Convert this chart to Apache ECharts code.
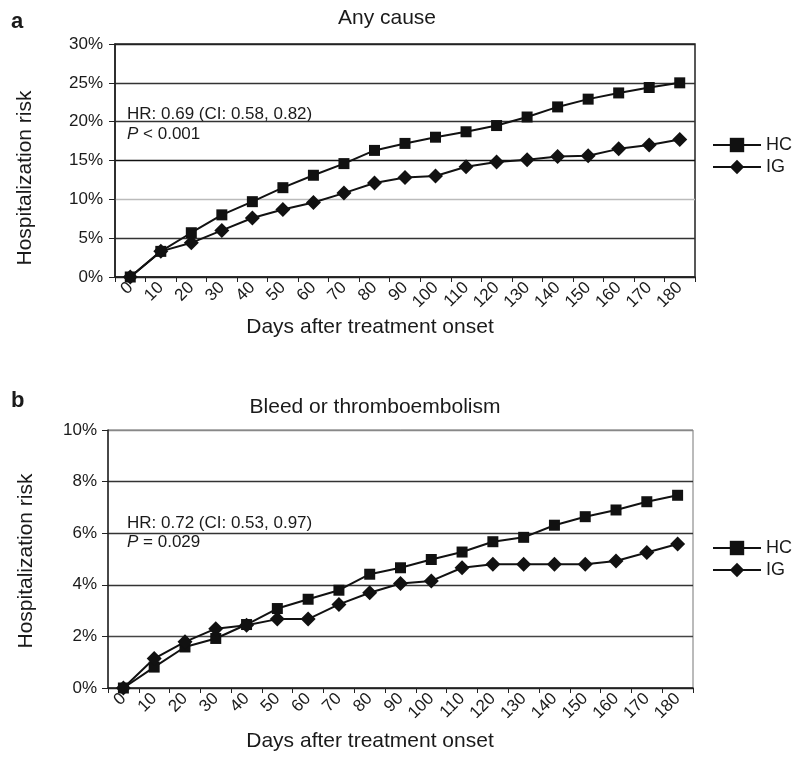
<!DOCTYPE html>
<html>
<head>
<meta charset="utf-8">
<script src="https://cdn.jsdelivr.net/npm/echarts@6/dist/echarts.min.js"></script>
<style>
html,body{margin:0;padding:0;background:#fff;}
#c{width:800px;height:758px;}
</style>
</head>
<body>
<div id="c"></div>
<script>
const days = ['0','10','20','30','40','50','60','70','80','90','100','110','120','130','140','150','160','170','180'];
const hcAny = [0, 3.3, 5.7, 8.0, 9.7, 11.5, 13.1, 14.6, 16.3, 17.2, 18.0, 18.7, 19.5, 20.6, 21.9, 22.9, 23.7, 24.4, 25.0];
const igAny = [0, 3.3, 4.4, 6.0, 7.6, 8.7, 9.6, 10.8, 12.1, 12.8, 13.0, 14.2, 14.8, 15.1, 15.5, 15.6, 16.5, 17.0, 17.7];
const hcBleed = [0, 0.81, 1.59, 1.92, 2.46, 3.08, 3.44, 3.79, 4.41, 4.66, 4.98, 5.27, 5.67, 5.84, 6.31, 6.64, 6.90, 7.22, 7.47];
const igBleed = [0, 1.14, 1.79, 2.30, 2.43, 2.67, 2.67, 3.24, 3.69, 4.05, 4.15, 4.66, 4.80, 4.80, 4.80, 4.80, 4.92, 5.25, 5.58];
const panelTitles = ['Any cause', 'Bleed or thromboembolism'];
const panelLetters = ['a', 'b'];
const hrTexts = ['HR: 0.69 (CI: 0.58, 0.82)', 'HR: 0.72 (CI: 0.53, 0.97)'];
const pTexts = [' < 0.001', ' = 0.029'];
const yAxisTitle = 'Hospitalization risk';
const xAxisTitle = 'Days after treatment onset';
const seriesNames = ['HC', 'IG'];

const FONT = "'Liberation Sans', Arial, Helvetica, sans-serif";
const TXT = '#1a1a1a';
const chart = echarts.init(document.getElementById('c'), null, {renderer: 'canvas'});

function xAx(gi) {
  return {
    type: 'category', gridIndex: gi, data: days, boundaryGap: true,
    axisLine: {show: true, lineStyle: {color: '#222', width: 1.5}},
    axisTick: {show: true, length: 5, lineStyle: {color: '#222'}},
    axisLabel: {rotate: 45, interval: 0, fontSize: 17, color: TXT, fontFamily: FONT, margin: 8},
    splitLine: {show: false}
  };
}
function yAx(gi, max, interval, colors, margin) {
  return {
    type: 'value', gridIndex: gi, min: 0, max: max, interval: interval,
    axisLine: {show: true, lineStyle: {color: '#222', width: 1.5}},
    axisTick: {show: true, length: 6, lineStyle: {color: '#222'}},
    axisLabel: {formatter: '{value}%', fontSize: 17, color: TXT, fontFamily: FONT, margin: margin},
    splitLine: {show: true, lineStyle: {color: colors, width: 1.3}}
  };
}
function ser(name, data, xi, sym, size) {
  return {
    name: name, type: 'line', xAxisIndex: xi, yAxisIndex: xi, data: data,
    symbol: sym, symbolSize: size, showAllSymbol: true,
    itemStyle: {color: '#111'},
    lineStyle: {color: '#111', width: 2},
    emphasis: {disabled: true}, animation: false
  };
}
function legendAt(top) {
  return {data: seriesNames, orient: 'vertical', left: 707, top: top, itemWidth: 48, itemHeight: 18, itemGap: 4,
    textStyle: {fontSize: 18, color: TXT, fontFamily: FONT}, selectedMode: false};
}

const option = {
  backgroundColor: '#fff',
  animation: false,
  textStyle: {fontFamily: FONT},
  title: [
    {text: panelTitles[0], left: 382, top: 3, textAlign: 'center', textStyle: {fontSize: 21, fontWeight: 'normal', color: TXT, fontFamily: FONT}},
    {text: panelTitles[1], left: 370, top: 392, textAlign: 'center', textStyle: {fontSize: 21, fontWeight: 'normal', color: TXT, fontFamily: FONT}},
    {text: panelLetters[0], left: 6, top: 6, textStyle: {fontSize: 22, fontWeight: 'bold', color: TXT, fontFamily: FONT}},
    {text: panelLetters[1], left: 6, top: 385, textStyle: {fontSize: 22, fontWeight: 'bold', color: TXT, fontFamily: FONT}}
  ],
  grid: [
    {left: 115, top: 44, width: 580, height: 233, show: true, borderColor: '#222', borderWidth: 1.5, outerBoundsMode: 'none'},
    {left: 108, top: 430, width: 585, height: 258, show: true, borderColor: '#777', borderWidth: 1, outerBoundsMode: 'none'}
  ],
  xAxis: [xAx(0), xAx(1)],
  yAxis: [
    yAx(0, 30, 5, ['#222', '#333', '#bbb', '#111', '#333', '#333', '#222'], 12),
    yAx(1, 10, 2, ['#222', '#444', '#333', '#333', '#333', '#888'], 11)
  ],
  legend: [legendAt(131), legendAt(534)],
  graphic: [
    {type: 'text', x: 25, y: 178, rotation: Math.PI / 2, style: {text: yAxisTitle, font: '21px ' + FONT, fill: TXT, textAlign: 'center', textVerticalAlign: 'middle'}},
    {type: 'text', x: 26, y: 561, rotation: Math.PI / 2, style: {text: yAxisTitle, font: '21px ' + FONT, fill: TXT, textAlign: 'center', textVerticalAlign: 'middle'}},
    {type: 'text', x: 370, y: 327, style: {text: xAxisTitle, font: '21px ' + FONT, fill: TXT, textAlign: 'center', textVerticalAlign: 'middle'}},
    {type: 'text', x: 370, y: 741, style: {text: xAxisTitle, font: '21px ' + FONT, fill: TXT, textAlign: 'center', textVerticalAlign: 'middle'}},
    {type: 'text', x: 127, y: 114, style: {text: hrTexts[0], font: '17px ' + FONT, fill: TXT, textVerticalAlign: 'middle'}},
    {type: 'text', x: 127, y: 134, style: {text: '{i|P}' + pTexts[0], font: '17px ' + FONT, fill: TXT, textVerticalAlign: 'middle',
      rich: {i: {fontStyle: 'italic', fontSize: 17, fontFamily: FONT, fill: TXT}}}},
    {type: 'text', x: 127, y: 523, style: {text: hrTexts[1], font: '17px ' + FONT, fill: TXT, textVerticalAlign: 'middle'}},
    {type: 'text', x: 127, y: 542, style: {text: '{i|P}' + pTexts[1], font: '17px ' + FONT, fill: TXT, textVerticalAlign: 'middle',
      rich: {i: {fontStyle: 'italic', fontSize: 17, fontFamily: FONT, fill: TXT}}}}
  ],
  series: [
    ser(seriesNames[0], hcAny, 0, 'rect', 11),
    ser(seriesNames[1], igAny, 0, 'diamond', 15),
    ser(seriesNames[0], hcBleed, 1, 'rect', 11),
    ser(seriesNames[1], igBleed, 1, 'diamond', 15)
  ]
};
chart.setOption(option);
</script>
</body>
</html>
